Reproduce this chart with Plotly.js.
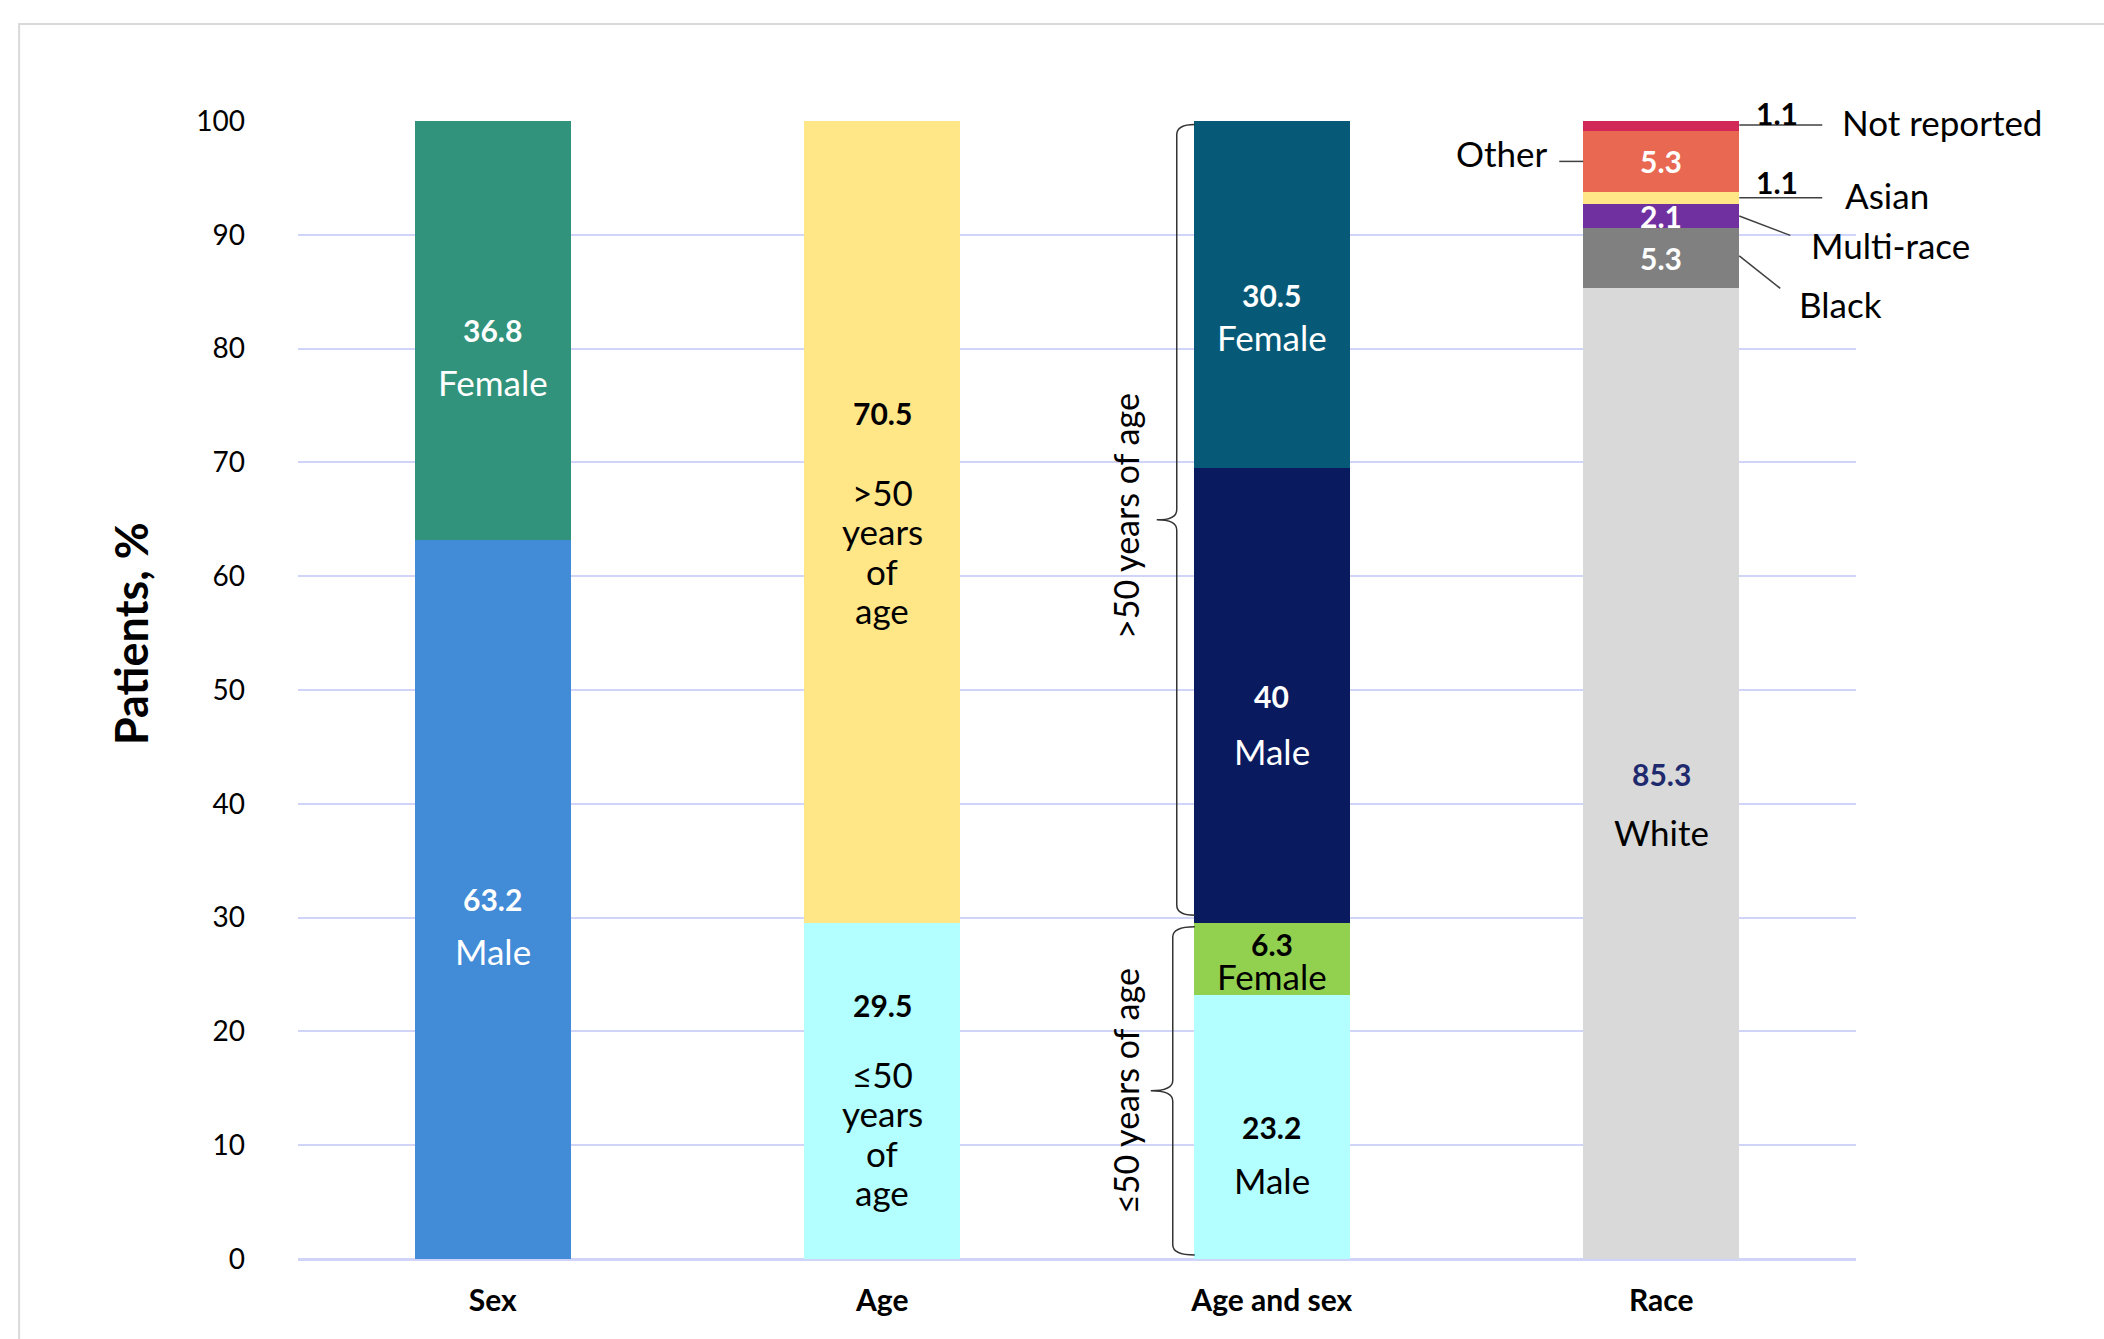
<!DOCTYPE html>
<html>
<head>
<meta charset="utf-8">
<script src="https://cdn.plot.ly/plotly-3.0.1.min.js"></script>
<style>html,body{margin:0;padding:0;background:#fff;}#chart{width:2104px;height:1339px;}</style>
</head>
<body>
<div id="chart"></div>
<script>
// ---------- DATA ----------
const categories = ['Sex', 'Age', 'Age and sex', 'Race'];

const sexLabels = ['Male', 'Female'];
const sexValues = [63.2, 36.8];

const ageLabels = [['≤50', 'years', 'of', 'age'], ['>50', 'years', 'of', 'age']];
const ageValues = [29.5, 70.5];

const ageSexLabels = ['Male', 'Female', 'Male', 'Female'];
const ageSexValues = [23.2, 6.3, 40, 30.5];
const ageGroupLabels = ['≤50 years of age', '>50 years of age'];

const raceLabels = ['White', 'Black', 'Multi-race', 'Asian', 'Other', 'Not reported'];
const raceValues = [85.3, 5.3, 2.1, 1.1, 5.3, 1.1];

const yTickValues = [0, 10, 20, 30, 40, 50, 60, 70, 80, 90, 100];
const yAxisTitle = 'Patients, %';

// ---------- STYLE ----------
const FONT = 'Lato, "Open Sans", sans-serif';
const NUM_SIZE = 30, LAB_SIZE = 35;
const sexColors = ['#418BD7', '#31937B'];
const ageColors = ['#B3FFFF', '#FFE687'];
const ageSexColors = ['#B3FFFF', '#92D050', '#091A5F', '#075A77'];
const raceColors = ['#D9D9D9', '#808080', '#7030A0', '#FFE687', '#E96851', '#D22858'];

const traces = [];
const annotations = [];
const shapes = [];

function centers(values) {
  let base = 0;
  return values.map(v => { const c = base + v / 2; base += v; return c; });
}
function addStack(cat, labels, values, colors) {
  values.forEach((v, i) => {
    traces.push({
      type: 'bar', x: [cat], y: [v], name: cat + ' ' + [].concat(labels[i]).join(' '),
      marker: {color: colors[i], line: {width: 0}},
      hoverinfo: 'x+y+name', showlegend: false
    });
  });
}
function ann(cat, y, text, opts) {
  annotations.push(Object.assign({
    x: cat, y: y, xref: 'x', yref: 'y', text: text, showarrow: false, borderpad: 0,
    font: {family: FONT, size: LAB_SIZE, color: '#000'}
  }, opts || {}));
}
function num(v) { return '<b>' + v + '</b>'; }

addStack(categories[0], sexLabels, sexValues, sexColors);
addStack(categories[1], ageLabels, ageValues, ageColors);
addStack(categories[2], ageSexLabels, ageSexValues, ageSexColors);
addStack(categories[3], raceLabels, raceValues, raceColors);

// Sex labels
const sexC = centers(sexValues);
sexValues.forEach((v, i) => {
  ann(categories[0], sexC[i], num(v), {font: {family: FONT, size: NUM_SIZE, color: '#fff'}});
  ann(categories[0], sexC[i], sexLabels[i], {yshift: -52, font: {family: FONT, size: LAB_SIZE, color: '#fff'}});
});

// Age labels (number + word block)
const ageC = centers(ageValues);
const ageNumShift = [86, 109], ageLabShift = [-42, -29];
ageValues.forEach((v, i) => {
  ann(categories[1], ageC[i], num(v), {yshift: ageNumShift[i], font: {family: FONT, size: NUM_SIZE, color: '#000'}});
  const lines = ageLabels[i], n = lines.length;
  lines.forEach((w, k) => {
    ann(categories[1], ageC[i], w, {yshift: ageLabShift[i] + ((n - 1) / 2 - k) * 39.5});
  });
});

// Age and sex labels
const asC = centers(ageSexValues);
const asTxt = ['#000', '#000', '#fff', '#fff'];
const asNumShift = [0, 15, 0, 0], asLabShift = [-53, -17, -55, -42];
ageSexValues.forEach((v, i) => {
  ann(categories[2], asC[i], num(v), {yshift: asNumShift[i], font: {family: FONT, size: NUM_SIZE, color: asTxt[i]}});
  ann(categories[2], asC[i], ageSexLabels[i], {yshift: asLabShift[i], font: {family: FONT, size: LAB_SIZE, color: asTxt[i]}});
});

// Braces for age groups beside "Age and sex"
function brace(y0, y1, xEnd, xLine, xTip) {
  const ym = (y0 + y1) / 2, d = 0.9;
  const p = `M ${xEnd},${y1} Q ${xLine},${y1} ${xLine},${y1 - d} L ${xLine},${ym + d} Q ${xLine},${ym} ${xTip},${ym} ` +
            `Q ${xLine},${ym} ${xLine},${ym - d} L ${xLine},${y0 + d} Q ${xLine},${y0} ${xEnd},${y0}`;
  shapes.push({type: 'path', xref: 'x', yref: 'y', xsizemode: 'pixel', xanchor: 2, path: p,
               line: {color: '#333', width: 1.5}});
}
const ageBounds = [0, ageSexValues[0] + ageSexValues[1], 100];
brace(ageBounds[0] + 0.35, ageBounds[1] - 0.3, -77, -99, -121);
brace(ageBounds[1] + 0.7, ageBounds[2] - 0.3, -77, -95, -115);
const braceLabShift = [0, 6];
[0, 1].forEach(i => {
  ann(categories[2], (ageBounds[i] + ageBounds[i + 1]) / 2, ageGroupLabels[i],
      {textangle: -90, xshift: -147, yshift: braceLabShift[i], font: {family: FONT, size: 34, color: '#000'}});
});

// Race labels
const rC = centers(raceValues);
ann(categories[3], rC[0], num(raceValues[0]), {font: {family: FONT, size: NUM_SIZE, color: '#1F2A6E'}});
ann(categories[3], rC[0], raceLabels[0], {yshift: -58});
[1, 2, 4].forEach(i => ann(categories[3], rC[i], num(raceValues[i]), {font: {family: FONT, size: NUM_SIZE, color: '#fff'}}));
// outside small values
ann(categories[3], rC[5], num(raceValues[5]), {xshift: 116, yshift: 12, font: {family: FONT, size: NUM_SIZE, color: '#000'}});
ann(categories[3], rC[3], num(raceValues[3]), {xshift: 116, yshift: 16, font: {family: FONT, size: NUM_SIZE, color: '#000'}});
// category names with leader lines
ann(categories[3], rC[5], raceLabels[5], {xshift: 180, xanchor: 'left', yshift: 3});
ann(categories[3], rC[3], raceLabels[3], {xshift: 183, xanchor: 'left', yshift: 3});
ann(categories[3], rC[2], raceLabels[2], {xshift: 149, xanchor: 'left', yshift: -29});
ann(categories[3], rC[1], raceLabels[1], {xshift: 137, xanchor: 'left', yshift: -46});
ann(categories[3], rC[4], raceLabels[4], {xshift: -112, xanchor: 'right', yshift: 8});

function leader(x0, y0, x1, y1) {
  shapes.push({type: 'line', xref: 'x', yref: 'y', xsizemode: 'pixel', xanchor: 3,
               x0: x0, x1: x1, y0: y0, y1: y1, line: {color: '#404040', width: 1.5}});
}
leader(78, rC[5], 161, rC[5]);
leader(78, rC[3], 161, rC[3]);
leader(78, rC[2], 129, rC[2] - 1.7);
leader(78, rC[1] + 0.2, 119, rC[1] - 2.65);
leader(-102, rC[4], -78, rC[4]);

// y axis title (as rotated text, positioned like the reference)
annotations.push({xref: 'paper', yref: 'paper', x: -0.1072, y: 0.55, xanchor: 'center', yanchor: 'middle',
                  text: '<b>' + yAxisTitle + '</b>', textangle: -90, showarrow: false,
                  font: {family: FONT, size: 45, color: '#000'}});

// outer frame
shapes.push({type: 'rect', xref: 'paper', yref: 'paper', x0: -0.179, x1: 1.3, y0: -0.2, y1: 1.0852,
             line: {color: '#D9D9D9', width: 2}, fillcolor: 'rgba(0,0,0,0)', layer: 'below'});

const layout = {
  width: 2104, height: 1339,
  margin: {l: 298, r: 248, t: 121, b: 80},
  paper_bgcolor: '#fff', plot_bgcolor: '#fff',
  barmode: 'stack', bargap: 0.6,
  font: {family: FONT, color: '#000'},
  showlegend: false,
  xaxis: {
    type: 'category', categoryorder: 'array', categoryarray: categories,
    range: [-0.5, categories.length - 0.5], autorange: false,
    tickfont: {family: FONT, size: 30, color: '#000', weight: 'bold'},
    ticks: '', showline: false, showgrid: false, zeroline: false,
    ticklabelstandoff: 21, fixedrange: true
  },
  yaxis: {
    range: [0, 100], autorange: false, tickvals: yTickValues, ticktext: yTickValues.map(String),
    tickfont: {family: FONT, size: 28, color: '#000'},
    ticks: '', showline: false,
    showgrid: true, gridcolor: '#D0D4F8', gridwidth: 2,
    zeroline: true, zerolinecolor: '#D0D4F8', zerolinewidth: 3,
    ticklabelstandoff: 52,
    automargin: false, fixedrange: true
  },
  annotations: annotations,
  shapes: shapes
};

Plotly.newPlot('chart', traces, layout, {displayModeBar: false, staticPlot: true});
</script>
</body>
</html>
